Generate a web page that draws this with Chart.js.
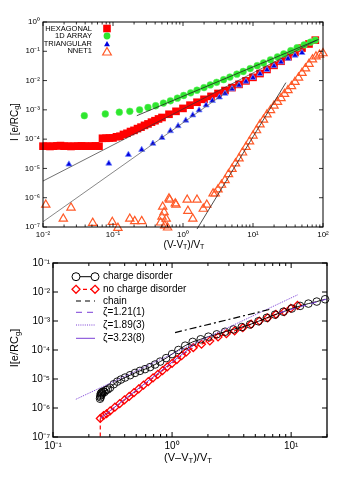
<!DOCTYPE html>
<html>
<head>
<meta charset="utf-8">
<script src="https://cdn.jsdelivr.net/npm/chart.js@4.4.1/dist/chart.umd.min.js"></script>
<style>
  body { margin: 0; background: #fff; }
  #wrap { position: relative; width: 360px; height: 490px; overflow: hidden; }
  canvas { position: absolute; left: 0; top: 0; }
  .lbl { position: absolute; font-family: "Liberation Sans", Arial, Helvetica, sans-serif; color: #000; white-space: nowrap; line-height: 1; }
  .lbl sub { font-size: 70%; vertical-align: -0.25em; }
  .rot { transform: translate(-50%, -50%) rotate(-90deg); }
  .ctr { transform: translate(-50%, -50%); }
</style>
</head>
<body>
<div id="wrap">
  <canvas id="topChart" width="360" height="490" style="width:360px;height:490px"></canvas>
  <canvas id="botChart" width="360" height="490" style="width:360px;height:490px"></canvas>
  <div class="lbl ctr" style="left:184px;top:245px;font-size:10px">(V-V<sub>T</sub>)/V<sub>T</sub></div>
  <div class="lbl rot" style="left:15px;top:122px;font-size:10px">I [e/RC<sub>g</sub>]</div>
  <div class="lbl ctr" style="left:188px;top:458px;font-size:11px">(V–V<sub>T</sub>)/V<sub>T</sub></div>
  <div class="lbl rot" style="left:15px;top:348px;font-size:11px">I[e/RC<sub>g</sub>]</div>
</div>
<script>
// values, stored as log10(x), log10(y)

// ---- top panel ----
const hexLogX = [-2.00,-1.95,-1.90,-1.85,-1.80,-1.75,-1.70,-1.65,-1.60,-1.55,-1.50,-1.45,-1.40,-1.35,-1.30,-1.25,-1.20,
  -1.15,-1.10,-1.05,-1.00,-0.95,-0.90,-0.85,-0.80,-0.75,-0.70,-0.65,-0.60,-0.55,-0.50,-0.45,-0.40,-0.35,-0.30,
  -0.20,-0.10,0.00,0.10,0.20,0.30,0.40,0.50,0.60,0.70,0.80,0.90,1.00,1.10,1.20,1.30,1.40,1.50,1.60,1.70,1.80,1.89];
const hexLogY = [-4.24,-4.24,-4.25,-4.24,-4.23,-4.22,-4.24,-4.24,-4.25,-4.24,-4.24,-4.23,-4.24,-4.24,-4.24,-4.23,-4.24,
  -3.97,-3.97,-3.96,-3.96,-3.92,-3.90,-3.84,-3.80,-3.74,-3.70,-3.64,-3.59,-3.53,-3.48,-3.42,-3.37,-3.31,-3.26,
  -3.15,-3.05,-2.95,-2.84,-2.74,-2.64,-2.54,-2.44,-2.34,-2.24,-2.13,-2.01,-1.89,-1.76,-1.62,-1.48,-1.34,-1.19,-1.04,-0.89,-0.75,-0.62];

const arrLogX = [-1.41,-1.11,-0.91,-0.76,-0.62,-0.50,-0.39,-0.28,-0.18,-0.08,0.01,0.11,0.20,0.30,0.39,0.48,
  0.58,0.67,0.77,0.86,0.96,1.06,1.15,1.25,1.35,1.44,1.54,1.63,1.73,1.82,1.89];
const arrLogY = [-3.20,-3.14,-3.08,-3.05,-3.00,-2.92,-2.86,-2.77,-2.69,-2.60,-2.51,-2.42,-2.33,-2.24,-2.15,-2.06,
  -1.97,-1.88,-1.78,-1.69,-1.59,-1.49,-1.40,-1.29,-1.19,-1.09,-0.98,-0.88,-0.78,-0.69,-0.62];

const triLogX = [-1.63,-1.06,-0.78,-0.59,-0.43,-0.30,-0.18,-0.07,0.04,0.14,0.23,0.33,0.42,0.52,0.60,0.70,
  0.80,0.90,1.00,1.10,1.20,1.30,1.40,1.50,1.60,1.70];
const triLogY = [-4.86,-4.83,-4.53,-4.36,-4.15,-3.95,-3.72,-3.55,-3.36,-3.18,-3.01,-2.84,-2.69,-2.57,-2.44,-2.29,
  -2.16,-2.03,-1.90,-1.77,-1.63,-1.50,-1.37,-1.25,-1.14,-1.05];

const nnLogX = [-1.96,-1.71,-1.60,-1.29,-1.01,-0.93,-0.76,-0.69,-0.59,-0.32,-0.30,-0.29,-0.27,-0.26,-0.24,-0.22,
  -0.20,-0.19,-0.11,-0.10,0.06,0.07,0.14,0.20,0.29,0.34,0.43,
  0.46,0.50,0.55,0.60,0.65,0.70,0.75,0.80,0.85,0.90,0.95,1.00,1.05,1.10,1.15,1.20,1.25,1.30,1.35,1.40,
  1.45,1.50,1.55,1.60,1.65,1.70,1.75,1.80,1.85,1.90,1.95,2.00];
const nnLogY = [-6.24,-6.72,-6.34,-6.86,-6.83,-7.03,-6.72,-6.80,-6.80,-6.85,-6.65,-6.31,-6.50,-6.95,-6.72,-7.02,
  -6.03,-6.07,-6.20,-6.24,-6.07,-6.45,-6.72,-6.07,-6.38,-6.24,-5.86,
  -5.86,-5.72,-5.56,-5.40,-5.20,-5.02,-4.83,-4.66,-4.46,-4.27,-4.08,-3.88,-3.70,-3.50,-3.34,-3.16,-3.01,-2.86,-2.73,-2.60,
  -2.46,-2.33,-2.19,-2.05,-1.90,-1.74,-1.59,-1.43,-1.28,-1.18,-1.12,-1.07];

// fitted power-law lines (end points)
const fitArrX = [-0.66, 1.94],  fitArrY = [-3.20, -0.59];
const fitHexX = [-2.00, 1.91],  fitHexY = [-5.43, -0.62];
const fitTriX = [-2.00, 0.80],  fitTriY = [-6.82, -2.09];
const fitNnX  = [0.20, 1.47],   fitNnY  = [-7.07, -2.07];

// ---- bottom panel ----
const cdLogX = [-0.605,-0.603,-0.600,-0.598,-0.595,-0.590,-0.585,-0.578,-0.568,-0.555,-0.540,-0.521,-0.490,-0.460,-0.430,
  -0.395,-0.353,-0.311,-0.270,-0.227,-0.185,-0.143,-0.100,-0.050,0.000,0.053,0.110,0.173,0.240,0.305,
  0.375,0.445,0.515,0.585,0.655,0.725,0.795,0.865,0.935,1.005,1.075,1.145,1.215,1.285];
const cdLogY = [-5.68,-5.58,-5.63,-5.50,-5.55,-5.46,-5.50,-5.43,-5.45,-5.38,-5.36,-5.30,-5.18,-5.09,-5.02,
  -4.95,-4.87,-4.79,-4.72,-4.66,-4.59,-4.50,-4.40,-4.28,-4.14,-4.00,-3.85,-3.72,-3.63,-3.54,
  -3.46,-3.37,-3.29,-3.21,-3.12,-3.01,-2.89,-2.78,-2.68,-2.57,-2.48,-2.40,-2.33,-2.25];

const ncdLogX = [-0.603,-0.575,-0.550,-0.520,-0.480,-0.440,-0.400,-0.360,-0.320,-0.280,-0.240,-0.200,-0.160,-0.120,
  -0.080,-0.040,0.000,0.040,0.080,0.120,0.178,0.247,0.317,0.386,0.456,0.525,0.594,0.664,0.733,0.803,0.872,0.942,0.997,1.053];
const ncdLogY = [-6.36,-6.26,-6.20,-6.10,-5.97,-5.85,-5.72,-5.60,-5.47,-5.34,-5.21,-5.09,-4.96,-4.84,
  -4.71,-4.58,-4.46,-4.33,-4.20,-4.07,-3.92,-3.80,-3.69,-3.55,-3.44,-3.34,-3.23,-3.11,-3.00,-2.89,-2.77,-2.68,-2.56,-2.46];
const dropX = [-0.603, -0.603], dropY = [-6.36, -7.0];

const chainX = [0.025, 0.82],   chainY = [-3.40, -2.60];
const z121X  = [0.90, 1.30],    z121Y  = [-2.72, -2.24];
const z189X  = [-0.808, 1.053], z189Y  = [-5.70, -2.10];
const z323X  = [-0.603, 0.18],  z323Y  = [-6.36, -3.84];

const FONT = '"Liberation Sans", Arial, Helvetica, sans-serif';
Chart.defaults.font.family = FONT;
Chart.defaults.color = '#000';

const pts = (xs, ys) => xs.map((v, i) => ({ x: Math.pow(10, v), y: Math.pow(10, ys[i]) }));

const SUP = { '-': '⁻', '0': '⁰', '1': '¹', '2': '²', '3': '³', '4': '⁴', '5': '⁵', '6': '⁶', '7': '⁷', '8': '⁸', '9': '⁹' };
function powLabel(v) {
  const e = Math.log10(v), r = Math.round(e);
  if (Math.abs(e - r) > 1e-6) return '';
  return '10' + String(r).split('').map(c => SUP[c]).join('');
}

function logAxis(min, max, size, pad, fit) {
  return {
    type: 'logarithmic', min, max,
    grid: { display: false, drawTicks: false },
    border: { display: false },
    ticks: { autoSkip: false, maxRotation: 0, minRotation: 0, padding: pad, font: { size }, color: '#000', callback: v => powLabel(v) },
    afterFit: fit
  };
}

function decadeTicks(min, max, minor) {
  const out = [];
  for (let e = Math.floor(Math.log10(min)); e <= Math.ceil(Math.log10(max)); e++) {
    for (let k = 1; k < 10; k++) {
      if (k > 1 && !minor) break;
      const v = k * Math.pow(10, e);
      if (v < min * 0.999 || v > max * 1.001) continue;
      out.push({ v, major: k === 1 });
    }
  }
  return out;
}

// frame, inward ticks on all four sides, legend
function deco(opt) {
  return {
    id: 'deco',
    afterDatasetsDraw(chart) {
      const { ctx, chartArea: a, scales: { x, y } } = chart;
      ctx.save();
      ctx.strokeStyle = '#000';
      ctx.lineWidth = opt.frame;
      ctx.strokeRect(a.left, a.top, a.right - a.left, a.bottom - a.top);
      ctx.lineWidth = opt.tickW;
      ctx.beginPath();
      decadeTicks(x.min, x.max, true).forEach(t => {
        const p = x.getPixelForValue(t.v), L = t.major ? opt.major : opt.minor;
        ctx.moveTo(p, a.bottom); ctx.lineTo(p, a.bottom - L);
        ctx.moveTo(p, a.top); ctx.lineTo(p, a.top + L);
      });
      decadeTicks(y.min, y.max, false).forEach(t => {
        const p = y.getPixelForValue(t.v), L = opt.major;
        ctx.moveTo(a.left, p); ctx.lineTo(a.left + L, p);
        ctx.moveTo(a.right, p); ctx.lineTo(a.right - L, p);
      });
      ctx.stroke();
      opt.legend(ctx);
      ctx.restore();
    }
  };
}

function tri(ctx, x, y, r) {
  ctx.beginPath();
  ctx.moveTo(x, y - r);
  ctx.lineTo(x + 0.866 * r, y + 0.5 * r);
  ctx.lineTo(x - 0.866 * r, y + 0.5 * r);
  ctx.closePath();
}

function topLegend(ctx) {
  ctx.font = '7.5px ' + FONT;
  ctx.textAlign = 'right';
  ctx.textBaseline = 'middle';
  ctx.fillStyle = '#000';
  const mx = 107;
  ctx.fillText('HEXAGONAL', 92, 28.5);
  ctx.fillText('1D ARRAY', 92, 36);
  ctx.fillText('TRIANGULAR', 92, 43.5);
  ctx.fillText('NNET1', 92, 51);
  ctx.fillStyle = '#ff0000';
  ctx.fillRect(mx - 3.8, 28.5 - 3.8, 7.6, 7.6);
  ctx.fillStyle = '#2ee62e';
  ctx.beginPath(); ctx.arc(mx, 36, 3.4, 0, Math.PI * 2); ctx.fill();
  ctx.fillStyle = '#0000e0';
  tri(ctx, mx, 44.5, 3.4); ctx.fill();
  ctx.strokeStyle = 'rgb(255,90,40)'; ctx.lineWidth = 1.2;
  tri(ctx, mx, 52.5, 5); ctx.stroke();
}

function botLegend(ctx) {
  ctx.font = '10px ' + FONT;
  ctx.textAlign = 'left';
  ctx.textBaseline = 'middle';
  ctx.fillStyle = '#000';
  const x0 = 76, x1 = 95, tx = 103;
  const rows = [276.7, 289.3, 301, 312.3, 325, 338.3];
  ['charge disorder', 'no charge disorder', 'chain', 'ζ=1.21(1)', 'ζ=1.89(3)', 'ζ=3.23(8)']
    .forEach((s, i) => ctx.fillText(s, tx, rows[i]));
  function seg(y, color, dash, w) {
    ctx.strokeStyle = color; ctx.lineWidth = w; ctx.setLineDash(dash);
    ctx.beginPath(); ctx.moveTo(x0, y); ctx.lineTo(x1, y); ctx.stroke();
    ctx.setLineDash([]);
  }
  seg(rows[0], '#000', [], 1);
  ctx.fillStyle = '#fff'; ctx.strokeStyle = '#000'; ctx.lineWidth = 1;
  [x0, x1].forEach(x => { ctx.beginPath(); ctx.arc(x, rows[0], 4, 0, Math.PI * 2); ctx.fill(); ctx.stroke(); });
  seg(rows[1], '#ff0000', [4, 3], 1.2);
  ctx.strokeStyle = '#ff0000'; ctx.lineWidth = 1.3;
  [x0, x1].forEach(x => {
    const y = rows[1];
    ctx.beginPath(); ctx.moveTo(x, y - 4); ctx.lineTo(x + 4, y); ctx.lineTo(x, y + 4); ctx.lineTo(x - 4, y); ctx.closePath();
    ctx.fillStyle = '#fff'; ctx.fill(); ctx.stroke();
  });
  seg(rows[2], '#000', [5, 4], 1.2);
  seg(rows[3], '#7b3fd6', [6, 5], 1);
  seg(rows[4], '#7b3fd6', [1, 1.2], 1);
  seg(rows[5], '#7b3fd6', [], 1);
}

const lineDs = (xs, ys, color, width, dash) => ({
  data: pts(xs, ys), showLine: true, pointRadius: 0, borderColor: color, borderWidth: width,
  borderDash: dash || [], fill: false, clip: false
});

new Chart(document.getElementById('topChart'), {
  type: 'scatter',
  data: {
    datasets: [
      lineDs(fitArrX, fitArrY, '#222', 0.8),
      lineDs(fitHexX, fitHexY, '#333', 0.7),
      lineDs(fitTriX, fitTriY, '#555', 0.7),
      lineDs(fitNnX, fitNnY, '#222', 0.8),
      { label: 'NNET1', data: pts(nnLogX, nnLogY), pointStyle: 'triangle', pointRadius: 4.8,
        borderColor: 'rgb(255,90,40)', backgroundColor: 'rgba(0,0,0,0)', borderWidth: 1.2, clip: false },
      { label: '1D ARRAY', data: pts(arrLogX, arrLogY), pointStyle: 'circle', pointRadius: 3.4,
        borderColor: '#5ef05e', backgroundColor: '#2ee62e', borderWidth: 0.5, clip: false },
      { label: 'TRIANGULAR', data: pts(triLogX, triLogY), pointStyle: 'triangle', pointRadius: 3.5,
        borderColor: 'rgba(120,140,255,0.8)', backgroundColor: '#0000e0', borderWidth: 1, clip: false },
      { label: 'HEXAGONAL', data: pts(hexLogX, hexLogY), pointStyle: 'rect', pointRadius: 5.4,
        borderColor: '#ff0000', backgroundColor: '#ff0000', borderWidth: 0, clip: false }
    ]
  },
  options: {
    responsive: false, animation: false, events: [],
    layout: { padding: { left: 0, right: 37, top: 22, bottom: 249 } },
    plugins: { legend: { display: false }, tooltip: { enabled: false } },
    scales: {
      x: logAxis(0.01, 100, 8, 3, s => { s.height = 14; }),
      y: logAxis(1e-7, 1, 8, 3, s => { s.width = 43; })
    }
  },
  plugins: [deco({ frame: 1, tickW: 0.8, major: 4, minor: 2.5, legend: topLegend })]
});

new Chart(document.getElementById('botChart'), {
  type: 'scatter',
  data: {
    datasets: [
      lineDs(chainX, chainY, '#000', 1.2, [7, 3, 2, 3]),
      lineDs(z121X, z121Y, '#7b3fd6', 1, [6, 5]),
      lineDs(z189X, z189Y, '#7b3fd6', 1, [1, 1]),
      lineDs(z323X, z323Y, '#7b3fd6', 1),
      { label: 'charge disorder', data: pts(cdLogX, cdLogY), showLine: true, pointStyle: 'circle', pointRadius: 3.8,
        borderColor: '#000', pointBorderColor: '#000', backgroundColor: 'rgba(255,255,255,0)', borderWidth: 0.9, clip: false },
      { label: 'no charge disorder', data: pts(ncdLogX, ncdLogY), showLine: true, borderDash: [4, 3], pointStyle: 'rectRot', pointRadius: 3.9,
        borderColor: '#ff0000', backgroundColor: 'rgba(255,255,255,0)', borderWidth: 1.3, clip: false },
      lineDs(dropX, dropY, '#ff0000', 1.2, [4, 3])
    ]
  },
  options: {
    responsive: false, animation: false, events: [],
    layout: { padding: { left: 0, right: 33, top: 263, bottom: 39 } },
    plugins: { legend: { display: false }, tooltip: { enabled: false } },
    scales: {
      x: logAxis(0.1, 20, 10, 3, s => { s.height = 14; }),
      y: logAxis(1e-7, 0.1, 10, 3, s => { s.width = 53; })
    }
  },
  plugins: [deco({ frame: 1.3, tickW: 1, major: 5, minor: 3, legend: botLegend })]
});
</script>
</body>
</html>
